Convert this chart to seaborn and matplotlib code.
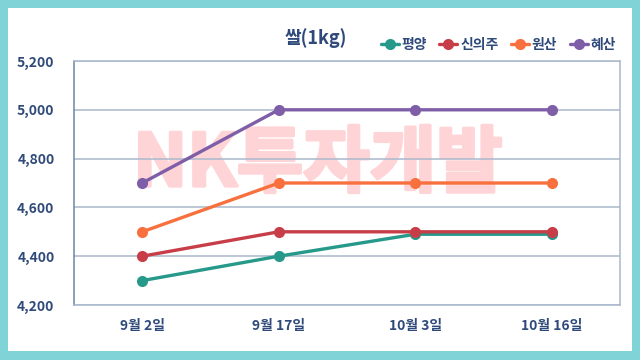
import pandas as pd
import matplotlib.pyplot as plt
import seaborn as sns
import matplotlib.patheffects as pe
from matplotlib.patches import Rectangle
from matplotlib.ticker import FuncFormatter

# data
dates = ['9월 2일', '9월 17일', '10월 3일', '10월 16일']
pyongyang = [4300, 4400, 4490, 4490]
sinuiju = [4400, 4500, 4500, 4500]
wonsan = [4500, 4700, 4700, 4700]
hyesan = [4700, 5000, 5000, 5000]
regions = ['평양', '신의주', '원산', '혜산']
colors = ['#26998a', '#c73d48', '#f7703e', '#7f5ea8']

rows = []
for name, vals in zip(regions, [pyongyang, sinuiju, wonsan, hyesan]):
    for d, v in zip(dates, vals):
        rows.append({'date': d, 'price': v, 'region': name})
df = pd.DataFrame(rows)

sns.set_style('white')
plt.rcParams['font.family'] = ['Noto Sans CJK KR', 'DejaVu Sans']

text_col = '#2f4a7a'
fig = plt.figure(figsize=(6.4, 3.6), dpi=100)
fig.patch.set_facecolor('#80d3d6')
# white card inside the teal frame
fig.add_artist(Rectangle((8 / 640, 9 / 360), 624 / 640, 343 / 360,
                         transform=fig.transFigure, facecolor='white',
                         edgecolor='none', zorder=-5))

ax = fig.add_axes([74 / 640, 55 / 360, 546 / 640, 244 / 360])
ax.set_zorder(2)
ax.set_facecolor('white')

sns.lineplot(data=df, x='date', y='price', hue='region', hue_order=regions,
             palette=dict(zip(regions, colors)), marker='o', markersize=8,
             markeredgewidth=0, linewidth=2.4, sort=False, ax=ax, zorder=3)

# watermark
wm_col = '#ffd4d7'
ax.text(0.447, 0.575, 'NK투자개발', transform=ax.transAxes, ha='center', va='center',
        fontsize=52, fontweight='black', color=wm_col, zorder=0.8,
        path_effects=[pe.withStroke(linewidth=2.5, foreground=wm_col)])

ax.set_xlim(-0.5, 3.5)
ax.set_ylim(4200, 5200)
ax.set_yticks(range(4200, 5201, 200))
ax.yaxis.set_major_formatter(FuncFormatter(lambda v, p: f'{int(v):,}'))
ax.set_axisbelow('line')
ax.grid(axis='y', color='#a9b8cc', linewidth=1.1)
for s in ax.spines.values():
    s.set_color('#a9b8cc')
    s.set_linewidth(1.1)
ax.spines['left'].set_color('#6f84a4')
ax.tick_params(length=0, pad=14, labelsize=10, labelcolor=text_col)
ax.tick_params(axis='x', pad=10)
for lab in ax.get_xticklabels() + ax.get_yticklabels():
    lab.set_fontweight('bold')
ax.set_xlabel('')
ax.set_ylabel('')

fig.text(316 / 640, 1 - 38 / 360, '쌀(1kg)', ha='center', va='center',
         fontsize=13, fontweight='bold', color=text_col)

handles, labels = ax.get_legend_handles_labels()
ax.legend(handles, labels, loc='center left', bbox_to_anchor=(368 / 640, 1 - 45 / 360),
          bbox_transform=fig.transFigure, ncol=4, frameon=False,
          handlelength=1.3, handletextpad=0.2, columnspacing=0.9,
          prop={'size': 10, 'weight': 'bold'}, labelcolor=text_col)

fig.savefig('out.png', dpi=100, facecolor=fig.get_facecolor())
